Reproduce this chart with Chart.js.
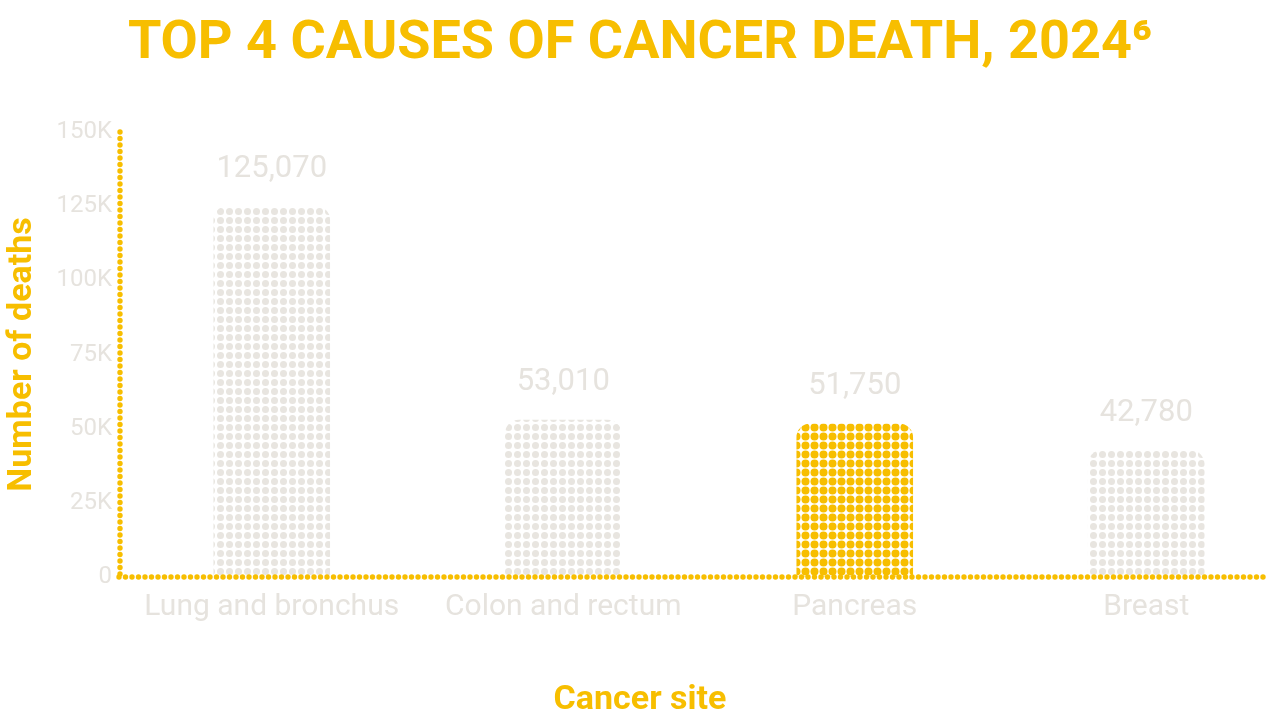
<!DOCTYPE html>
<html>
<head>
<meta charset="utf-8">
<script src="https://cdn.jsdelivr.net/npm/chart.js@4.4.1/dist/chart.umd.min.js"></script>
<style>
  html, body { margin: 0; padding: 0; background: #ffffff; overflow: hidden; }
  #wrap { width: 1300px; height: 720px; position: relative; }
</style>
</head>
<body>
<div id="wrap"><canvas id="deathChart"></canvas></div>
<script>
// ================== DATA ==================
const categories = ["Lung and bronchus", "Colon and rectum", "Pancreas", "Breast"];
const deaths = [125070, 53010, 51750, 42780];
const highlighted = [false, false, true, false];
const yTicks = [0, 25000, 50000, 75000, 100000, 125000, 150000];

const chartTitle = "TOP 4 CAUSES OF CANCER DEATH, 2024\u2076";
const xTitle = "Cancer site";
const yTitle = "Number of deaths";

const YELLOW = "#F7BE00";
const GRAY_TEXT = "#E6E3DE";
const GRAY_DOT = "#E8E5E0";
const PAGE_CENTER = 640;

// dotted fill for the bars
function dotPattern(color, radius) {
    const c = document.createElement("canvas");
    c.width = 9;
    c.height = 9;
    const g = c.getContext("2d");
    g.fillStyle = color;
    g.beginPath();
    g.arc(4.5, 4.5, radius, 0, Math.PI * 2);
    g.fill();
    return g.createPattern(c, "repeat");
}

const ctx = document.getElementById("deathChart").getContext("2d");
const grayFill = dotPattern(GRAY_DOT, 3.5);
const yellowFill = dotPattern(YELLOW, 4);

// dotted axis lines
const dottedAxes = {
    id: "dottedAxes",
    afterDatasetsDraw(chart) {
        const c = chart.ctx;
        const area = chart.chartArea;
        const y0 = chart.scales.y.getPixelForValue(0);
        const xLine = area.left - 6;
        c.save();
        c.fillStyle = YELLOW;
        for (let y = area.top; y <= y0; y += 6.5) {
            c.beginPath();
            c.arc(xLine, y, 2.7, 0, Math.PI * 2);
            c.fill();
        }
        for (let x = xLine - 1; x <= area.right - 27; x += 6.5) {
            c.beginPath();
            c.arc(x, y0, 2.7, 0, Math.PI * 2);
            c.fill();
        }
        c.restore();
    }
};

// value labels above bars + titles centred on the page
const textLayer = {
    id: "textLayer",
    afterDraw(chart) {
        const c = chart.ctx;
        const meta = chart.getDatasetMeta(0);
        c.save();
        c.textAlign = "center";
        c.textBaseline = "middle";

        c.font = "31px Roboto";
        c.fillStyle = GRAY_TEXT;
        meta.data.forEach((bar, i) => {
            c.fillText(deaths[i].toLocaleString("en-US"), bar.x, bar.y - 37);
        });

        c.fillStyle = YELLOW;
        c.font = "bold 54px Roboto";
        c.fillText(chartTitle, PAGE_CENTER, 44);

        c.font = "bold 34px Roboto";
        c.fillText(xTitle, PAGE_CENTER, 700);

        c.translate(22, (chart.chartArea.top + chart.chartArea.bottom) / 2);
        c.rotate(-Math.PI / 2);
        c.fillText(yTitle, 0, 0);
        c.restore();
    }
};

new Chart(ctx, {
    type: "bar",
    data: {
        labels: categories,
        datasets: [{
            data: deaths,
            backgroundColor: highlighted.map(h => h ? yellowFill : grayFill),
            borderWidth: 0,
            borderRadius: { topLeft: 14, topRight: 14, bottomLeft: 0, bottomRight: 0 },
            borderSkipped: "start",
            barPercentage: 0.4,
            categoryPercentage: 1
        }]
    },
    options: {
        responsive: true,
        maintainAspectRatio: false,
        animation: false,
        devicePixelRatio: 1,
        layout: { padding: { left: 0, right: 8, top: 132, bottom: 0 } },
        plugins: {
            legend: { display: false },
            tooltip: { enabled: false },
            title: { display: false }
        },
        scales: {
            y: {
                min: 0,
                max: 150000,
                afterBuildTicks(scale) {
                    scale.ticks = yTicks.map(v => ({ value: v }));
                },
                afterFit(scale) { scale.width = 126; },
                grid: { display: false, drawTicks: false },
                border: { display: false },
                ticks: {
                    padding: 14,
                    color: GRAY_TEXT,
                    font: { family: "Roboto", size: 24 },
                    callback: v => v === 0 ? "0" : (v / 1000) + "K"
                }
            },
            x: {
                afterFit(scale) { scale.height = 143; },
                grid: { display: false, drawTicks: false },
                border: { display: false },
                ticks: {
                    padding: 12,
                    color: GRAY_TEXT,
                    font: { family: "Roboto", size: 30 },
                    maxRotation: 0
                }
            }
        }
    },
    plugins: [dottedAxes, textLayer]
});
</script>
</body>
</html>
